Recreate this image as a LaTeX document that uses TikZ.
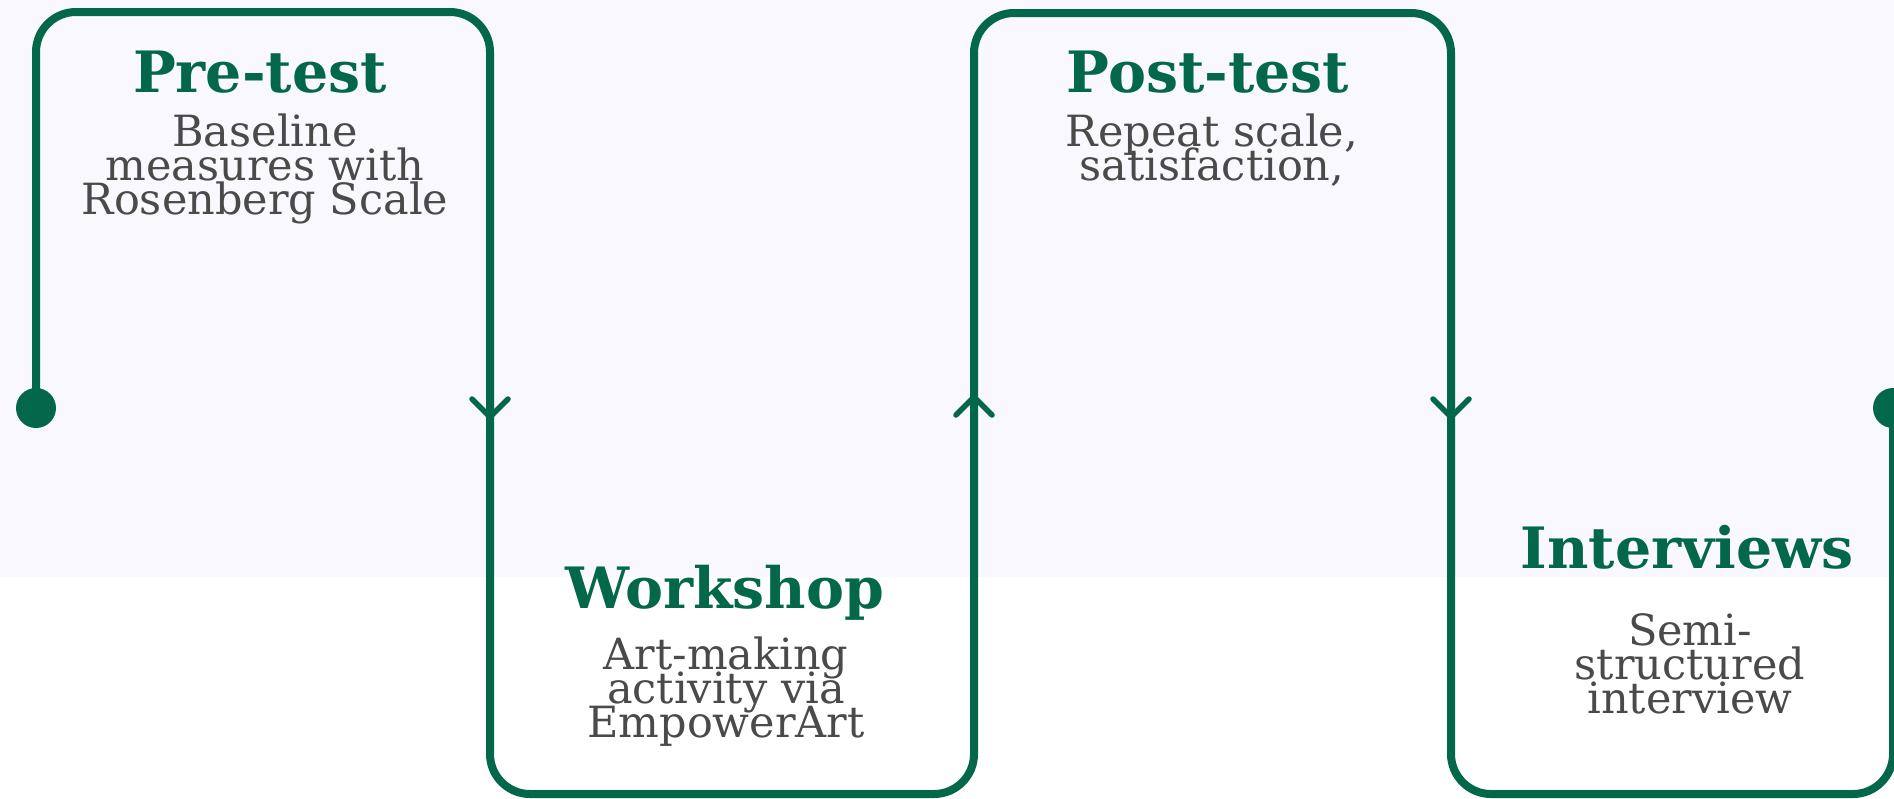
\documentclass[tikz,border=0pt]{standalone}
\usepackage{fontspec}
\setmainfont{DejaVu Serif}
\definecolor{lineg}{HTML}{03684A}
\definecolor{bodyg}{HTML}{4A4A4A}
\definecolor{bgl}{HTML}{F8F8FE}
\newcommand{\mytightlines}{\lineskiplimit=-200pt\relax\lineskip=0pt\relax}
\tikzset{
  flow/.style={draw=lineg, line width=8pt, rounded corners=40pt},
  chev/.style={draw=lineg, line width=5.5pt, line cap=round, line join=miter},
  dotmark/.style={fill=lineg},
  head/.style={text=lineg, font=\fontsize{57}{60}\selectfont\bfseries, inner sep=0pt, anchor=base},
  body/.style={text=bodyg, font=\fontsize{43}{34}\selectfont\mytightlines, align=center, inner sep=0pt, anchor=base},
}
\begin{document}
\begin{tikzpicture}[x=1pt,y=-1pt]
\useasboundingbox (0,0) rectangle (1894,798);
\clip (0,0) rectangle (1894,798);
\fill[white] (0,0) rectangle (1894,798);
\fill[bgl] (0,0) rectangle (1894,577);
% path corners
\coordinate (s) at (36,408);
\coordinate (c1) at (36,12);
\coordinate (c2) at (490,12);
\coordinate (c3) at (490,794);
\coordinate (c4) at (974,794);
\coordinate (c5) at (974,13);
\coordinate (c6) at (1451,13);
\coordinate (c7) at (1451,794);
\coordinate (c8) at (1893,794);
\coordinate (e) at (1893,408);
\draw[flow] (s) -- (c1) -- (c2) -- (c3) -- (c4) -- (c5) -- (c6) -- (c7) -- (c8) -- (e);
\fill[dotmark] (s) circle (20pt);
\fill[dotmark] (e) circle (20pt);
% arrow tips
\coordinate (a1) at (490,417);
\coordinate (a2) at (974,397);
\coordinate (a3) at (1451,417);
\draw[chev] (a1) ++(-18,-18) -- (a1) -- ++(18,-18);
\draw[chev] (a2) ++(-18,18) -- (a2) -- ++(18,18);
\draw[chev] (a3) ++(-18,-18) -- (a3) -- ++(18,-18);
% texts (body nodes: base = baseline of last line)
\node[head] (h1) at (260,92) {Pre-test};
\node[body] (b1) at (265,214) {Baseline\\measures with\\Rosenberg Scale};
\node[head] (h2) at (725,608) {Workshop};
\node[body] (b2) at (726,737) {Art-making\\activity via\\EmpowerArt};
\node[head] (h3) at (1208,92) {Post-test};
\node[body] (b3) at (1212,180) {Repeat scale,\\satisfaction,};
\node[head] (h4) at (1687,568) {Interviews};
\node[body] (b4) at (1690,713) {Semi-\\structured\\interview};
\end{tikzpicture}
\end{document}
